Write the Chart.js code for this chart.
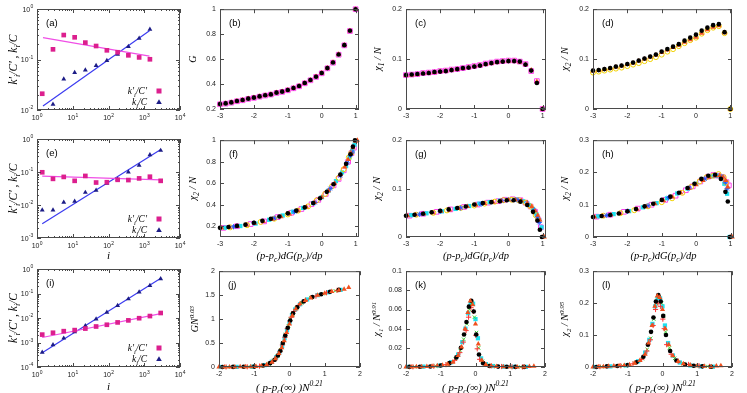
<!DOCTYPE html>
<html>
<head>
<meta charset="utf-8">
<script src="https://cdn.jsdelivr.net/npm/chart.js@4.4.1/dist/chart.umd.min.js"></script>
<style>
  body { margin: 0; background: #fff; width: 747px; height: 393px; position: relative; overflow: hidden; }
  canvas { position: absolute; }
</style>
</head>
<body>
<script>
// ---- tick values and labels (log axes: exponents of 10) ----
const decX = [1, 10, 100, 1000, 10000];
const decXExp = ['0', '1', '2', '3', '4'];
const decA = [0.01, 0.1, 1], decAExp = ['-2', '-1', '0'];
const decE = [0.001, 0.01, 0.1, 1], decEExp = ['-3', '-2', '-1', '0'];
const decI = [0.0001, 0.001, 0.01, 0.1, 1], decIExp = ['-4', '-3', '-2', '-1', '0'];
const x31 = [-3, -2, -1, 0, 1], x31Lab = ['-3', '-2', '-1', '0', '1'];
const x22 = [-2, -1, 0, 1, 2], x22Lab = ['-2', '-1', '0', '1', '2'];
const y21 = [0.2, 0.4, 0.6, 0.8, 1], y21Lab = ['0.2', '0.4', '0.6', '0.8', '1'];
const y02 = [0, 0.1, 0.2], y02Lab = ['0', '0.1', '0.2'];
const y03 = [0, 0.1, 0.2, 0.3], y03Lab = ['0', '0.1', '0.2', '0.3'];
const yJ = [0, 0.5, 1, 1.5, 2], yJLab = ['0', '0.5', '1', '1.5', '2'];
const yK = [0, 0.02, 0.04, 0.06, 0.08, 0.1], yKLab = ['0', '0.02', '0.04', '0.06', '0.08', '0.1'];

// ---- panel (a) ----
const aIdx = [1.4, 2.8, 5.6, 11.3, 22.5, 45, 90, 180, 360, 720, 1440];
const aKp = [0.021, 0.159, 0.305, 0.275, 0.216, 0.185, 0.152, 0.139, 0.121, 0.110, 0.101];
const aIdxK = [2.8, 5.6, 11.3, 22.5, 45, 90, 180, 360, 720, 1440];
const aK = [0.0129, 0.041, 0.055, 0.062, 0.0755, 0.095, 0.126, 0.18, 0.262, 0.395];
const aFitX = [1.47, 1400];
const aFitKp = [0.27, 0.117];
const aFitK = [0.012, 0.372];

// ---- panel (e) ----
const eIdx = [1.4, 2.8, 5.6, 11.3, 22.5, 45, 90, 180, 360, 720, 1440, 2880];
const eKp = [0.098, 0.062, 0.071, 0.054, 0.076, 0.048, 0.049, 0.058, 0.057, 0.064, 0.072, 0.054];
const eK = [0.007, 0.007, 0.012, 0.013, 0.024, 0.028, 0.045, 0.06, 0.1, 0.16, 0.33, 0.45];
const eFitX = [1.4, 2900];
const eFitKp = [0.075, 0.058];
const eFitK = [0.0027, 0.48];

// ---- panel (i) ----
const iKp = [0.0021, 0.0025, 0.0029, 0.0032, 0.0037, 0.0045, 0.0053, 0.0066, 0.008, 0.0098, 0.012, 0.016];
const iK = [0.0004, 0.0008, 0.0015, 0.0027, 0.0048, 0.009, 0.017, 0.032, 0.06, 0.115, 0.21, 0.4];
const iFitX = [1.4, 2900];
const iFitKp = [0.0016, 0.015];
const iFitK = [0.00038, 0.42];

// ---- row 1: (b) G, (c) chi1/N, (d) chi2/N ----
const x1 = [-3, -2.833, -2.667, -2.5, -2.333, -2.167, -2, -1.833, -1.667, -1.5, -1.333, -1.167, -1, -0.833, -0.667, -0.5, -0.333, -0.167, 0, 0.167, 0.333, 0.5, 0.667, 0.833, 1];
const bBlack = [0.24, 0.245, 0.253, 0.264, 0.272, 0.283, 0.291, 0.301, 0.31, 0.317, 0.331, 0.339, 0.352, 0.368, 0.384, 0.408, 0.432, 0.459, 0.488, 0.528, 0.573, 0.637, 0.712, 0.827, 1.0];
const bOrange = [0.241, 0.246, 0.254, 0.265, 0.273, 0.284, 0.292, 0.302, 0.311, 0.318, 0.332, 0.34, 0.353, 0.369, 0.385, 0.409, 0.433, 0.46, 0.489, 0.529, 0.574, 0.638, 0.713, 0.828, 1.0];
const bMag = [0.238, 0.243, 0.251, 0.262, 0.27, 0.281, 0.289, 0.299, 0.308, 0.316, 0.329, 0.337, 0.35, 0.366, 0.382, 0.406, 0.43, 0.457, 0.486, 0.526, 0.571, 0.635, 0.71, 0.825, 1.0];
const cBlack = [0.068, 0.069, 0.070, 0.071, 0.072, 0.074, 0.075, 0.076, 0.078, 0.080, 0.082, 0.083, 0.085, 0.087, 0.090, 0.092, 0.094, 0.095, 0.096, 0.096, 0.095, 0.089, 0.077, 0.052, 0.0];
const cOrange = [0.067, 0.068, 0.069, 0.071, 0.072, 0.073, 0.075, 0.076, 0.078, 0.079, 0.081, 0.083, 0.085, 0.087, 0.089, 0.091, 0.093, 0.095, 0.096, 0.096, 0.094, 0.089, 0.078, 0.055, 0.0];
const cMag = [0.068, 0.069, 0.070, 0.072, 0.073, 0.074, 0.076, 0.077, 0.079, 0.080, 0.082, 0.084, 0.086, 0.088, 0.091, 0.093, 0.095, 0.096, 0.097, 0.097, 0.095, 0.090, 0.076, 0.056, 0.0];
const dBlack = [0.077, 0.078, 0.080, 0.082, 0.085, 0.087, 0.090, 0.093, 0.097, 0.101, 0.105, 0.109, 0.115, 0.12, 0.125, 0.13, 0.137, 0.143, 0.149, 0.157, 0.163, 0.168, 0.170, 0.154, 0.0];
const dOrange = [0.076, 0.077, 0.079, 0.081, 0.084, 0.086, 0.089, 0.092, 0.096, 0.100, 0.104, 0.108, 0.113, 0.118, 0.123, 0.128, 0.134, 0.139, 0.144, 0.152, 0.159, 0.164, 0.167, 0.153, 0.0];
const dYellow = [0.073, 0.075, 0.077, 0.079, 0.081, 0.083, 0.086, 0.089, 0.092, 0.096, 0.100, 0.104, 0.109, 0.115, 0.12, 0.126, 0.132, 0.138, 0.143, 0.151, 0.158, 0.163, 0.166, 0.152, 0.0];

// ---- row 2: (f), (g), (h); x = (p-pc)dG(pc)/dp per system size ----
const x2Black = [-3, -2.75, -2.5, -2.25, -2.0, -1.75, -1.5, -1.25, -1.0, -0.75, -0.5, -0.25, -0.05, 0.15, 0.35, 0.55, 0.72, 0.85, 0.92, 0.98];
const fBlack = [0.185, 0.193, 0.203, 0.215, 0.232, 0.25, 0.27, 0.29, 0.32, 0.345, 0.375, 0.415, 0.46, 0.52, 0.59, 0.68, 0.78, 0.87, 0.94, 1.0];
const gBlack = [0.044, 0.046, 0.048, 0.051, 0.054, 0.057, 0.06, 0.063, 0.067, 0.07, 0.072, 0.074, 0.076, 0.076, 0.073, 0.066, 0.052, 0.034, 0.015, 0.0];
const hBlack = [0.062, 0.065, 0.068, 0.073, 0.08, 0.087, 0.095, 0.103, 0.115, 0.125, 0.137, 0.152, 0.165, 0.18, 0.19, 0.193, 0.18, 0.14, 0.11, 0.0];
const x2Orange = [-2.95, -2.72, -2.48, -2.22, -1.98, -1.72, -1.46, -1.2, -0.95, -0.7, -0.45, -0.22, 0.0, 0.2, 0.38, 0.55, 0.68, 0.78, 0.86, 0.92, 1.0, 1.05];
const fOrange = [0.183, 0.19, 0.2, 0.212, 0.228, 0.245, 0.265, 0.288, 0.315, 0.345, 0.38, 0.42, 0.47, 0.53, 0.6, 0.68, 0.75, 0.82, 0.88, 0.93, 0.99, 1.0];
const gOrange = [0.044, 0.046, 0.048, 0.05, 0.053, 0.056, 0.059, 0.063, 0.066, 0.069, 0.072, 0.075, 0.077, 0.077, 0.075, 0.07, 0.063, 0.054, 0.045, 0.035, 0.0, 0.0];
const hOrange = [0.062, 0.065, 0.069, 0.073, 0.079, 0.086, 0.094, 0.103, 0.113, 0.124, 0.137, 0.15, 0.162, 0.175, 0.185, 0.19, 0.19, 0.185, 0.175, 0.155, 0.0, 0.0];
const x2Mag = [-2.9, -2.5, -2.1, -1.7, -1.3, -0.9, -0.6, -0.3, -0.1, 0.12, 0.35, 0.5, 0.65, 0.78, 0.88, 0.95];
const fMag = [0.185, 0.2, 0.22, 0.245, 0.285, 0.325, 0.36, 0.405, 0.445, 0.5, 0.58, 0.64, 0.72, 0.8, 0.88, 0.93];
const gMag = [0.044, 0.048, 0.052, 0.057, 0.062, 0.067, 0.071, 0.074, 0.077, 0.078, 0.076, 0.071, 0.063, 0.052, 0.035, 0.02];
const hMag = [0.063, 0.069, 0.078, 0.088, 0.1, 0.115, 0.128, 0.145, 0.157, 0.172, 0.187, 0.192, 0.19, 0.185, 0.17, 0.16];
const x2Cyan = [-2.85, -2.4, -1.95, -1.55, -1.15, -0.85, -0.55, -0.25, 0.0, 0.2, 0.42, 0.6, 0.72, 0.82, 0.9, 0.97];
const fCyan = [0.186, 0.202, 0.225, 0.26, 0.3, 0.335, 0.37, 0.415, 0.47, 0.53, 0.62, 0.7, 0.76, 0.84, 0.9, 0.96];
const gCyan = [0.045, 0.049, 0.053, 0.058, 0.064, 0.069, 0.072, 0.075, 0.077, 0.077, 0.074, 0.066, 0.058, 0.047, 0.035, 0.02];
const hCyan = [0.064, 0.071, 0.08, 0.092, 0.105, 0.12, 0.135, 0.15, 0.165, 0.177, 0.188, 0.19, 0.185, 0.165, 0.134, 0.0];
const x2Yel = [-2.7, -2.2, -1.8, -1.4, -1.0, -0.7, -0.4, -0.15, 0.1, 0.3, 0.5, 0.65, 0.8, 0.87];
const fYel = [0.19, 0.21, 0.24, 0.27, 0.31, 0.345, 0.385, 0.44, 0.5, 0.57, 0.65, 0.73, 0.84, 0.88];
const gYel = [0.046, 0.05, 0.055, 0.06, 0.065, 0.069, 0.073, 0.076, 0.077, 0.076, 0.071, 0.063, 0.045, 0.035];
const hYel = [0.066, 0.074, 0.083, 0.095, 0.108, 0.12, 0.137, 0.155, 0.172, 0.185, 0.19, 0.195, 0.185, 0.169];
const x2Blue = [-2.6, -2.0, -1.4, -0.8, -0.2, 0.25, 0.55, 0.75, 0.85, 0.9];
const fBlue = [0.195, 0.23, 0.275, 0.335, 0.42, 0.55, 0.67, 0.79, 0.86, 0.89];
const gBlue = [0.047, 0.053, 0.06, 0.068, 0.075, 0.077, 0.07, 0.055, 0.042, 0.03];
const hBlue = [0.067, 0.08, 0.097, 0.122, 0.152, 0.18, 0.19, 0.187, 0.17, 0.15];

// ---- row 3: (j), (k), (l); x = (p-pc(inf))N^0.21 per system size ----
const x3Orange = [-2, -1.85, -1.7, -1.55, -1.4, -1.25, -1.1, -0.95, -0.8, -0.65, -0.5, -0.4, -0.3, -0.22, -0.15, -0.08, 0, 0.08, 0.18, 0.3, 0.45, 0.6, 0.8, 1.0, 1.2, 1.4, 1.55, 1.68];
const jOrange = [0, 0.001, 0.001, 0.002, 0.003, 0.005, 0.007, 0.01, 0.02, 0.045, 0.1, 0.17, 0.28, 0.4, 0.55, 0.72, 0.9, 1.07, 1.21, 1.32, 1.39, 1.44, 1.5, 1.54, 1.575, 1.6, 1.625, 1.66];
const kOrange = [0, 0.0001, 0.0002, 0.0003, 0.0005, 0.0008, 0.0012, 0.0018, 0.003, 0.005, 0.012, 0.021, 0.04, 0.057, 0.069, 0.065, 0.045, 0.024, 0.007, 0.0025, 0.001, 0.0006, 0.0003, 0.0002, 0.0001, 0.0001, 0.0005, 0.0008];
const lOrange = [0, 0.001, 0.001, 0.002, 0.003, 0.004, 0.005, 0.007, 0.012, 0.02, 0.04, 0.075, 0.13, 0.19, 0.222, 0.218, 0.18, 0.12, 0.07, 0.035, 0.017, 0.01, 0.006, 0.004, 0.002, 0.001, 0.003, 0.004];
const x3Black = [-1.9, -1.6, -1.3, -1.0, -0.75, -0.55, -0.42, -0.33, -0.26, -0.19, -0.12, -0.05, 0.02, 0.1, 0.22, 0.4, 0.65, 0.9, 1.15, 1.4];
const jBlack = [0, 0.002, 0.004, 0.008, 0.03, 0.08, 0.15, 0.24, 0.34, 0.5, 0.66, 0.82, 0.97, 1.12, 1.25, 1.37, 1.46, 1.52, 1.57, 1.61];
const kBlack = [0.0001, 0.0003, 0.0006, 0.0015, 0.004, 0.01, 0.02, 0.034, 0.047, 0.063, 0.069, 0.058, 0.034, 0.013, 0.004, 0.001, 0.0004, 0.0002, 0.0001, 0.0001];
const lBlack = [0.0, 0.002, 0.003, 0.006, 0.015, 0.032, 0.07, 0.11, 0.155, 0.205, 0.225, 0.205, 0.16, 0.1, 0.05, 0.02, 0.008, 0.004, 0.002, 0.001];
const x3Cyan = [-1.95, -1.5, -1.05, -0.7, -0.5, -0.38, -0.29, -0.21, -0.14, -0.07, 0.0, 0.07, 0.16, 0.3, 0.5, 0.8, 1.1, 1.45];
const jCyan = [0, 0.002, 0.007, 0.04, 0.11, 0.2, 0.3, 0.44, 0.6, 0.77, 0.93, 1.08, 1.2, 1.31, 1.41, 1.5, 1.56, 1.61];
const kCyan = [0.0001, 0.0004, 0.0014, 0.005, 0.013, 0.026, 0.04, 0.056, 0.066, 0.066, 0.05, 0.03, 0.009, 0.003, 0.001, 0.0004, 0.0002, 0.0001];
const lCyan = [0.0, 0.002, 0.005, 0.018, 0.045, 0.085, 0.135, 0.19, 0.215, 0.215, 0.19, 0.13, 0.075, 0.036, 0.014, 0.005, 0.002, 0.001];
const x3Red = [-1.8, -1.2, -0.85, -0.6, -0.45, -0.35, -0.27, -0.2, -0.13, -0.06, 0.01, 0.05, 0.12, 0.25, 0.45, 0.75, 1.05, 1.35];
const jRed = [0.001, 0.005, 0.018, 0.06, 0.13, 0.22, 0.32, 0.46, 0.62, 0.8, 0.96, 1.04, 1.16, 1.28, 1.39, 1.48, 1.55, 1.6];
const kRed = [0.0002, 0.0008, 0.0025, 0.007, 0.015, 0.026, 0.038, 0.052, 0.062, 0.058, 0.033, 0.019, 0.008, 0.003, 0.0012, 0.0005, 0.0002, 0.0001];
const lRed = [0.001, 0.004, 0.01, 0.024, 0.05, 0.085, 0.13, 0.18, 0.2, 0.19, 0.15, 0.12, 0.07, 0.04, 0.018, 0.008, 0.004, 0.002];
const x3Green = [-1.75, -1.15, -0.8, -0.58, -0.44, -0.34, -0.25, -0.18, -0.11, -0.03, 0.03, 0.09, 0.2, 0.35, 0.6, 0.95, 1.3];
const jGreen = [0.001, 0.006, 0.02, 0.065, 0.14, 0.23, 0.36, 0.5, 0.68, 0.86, 1.0, 1.1, 1.23, 1.34, 1.45, 1.53, 1.59];
const kGreen = [0.0002, 0.001, 0.003, 0.008, 0.017, 0.029, 0.045, 0.06, 0.066, 0.052, 0.036, 0.02, 0.006, 0.002, 0.0006, 0.0002, 0.0001];
const lGreen = [0.001, 0.004, 0.012, 0.026, 0.055, 0.09, 0.15, 0.2, 0.22, 0.2, 0.16, 0.11, 0.06, 0.027, 0.01, 0.004, 0.002];

// ---- axis titles: [text, 0 normal / 1 subscript / 2 superscript] ----
const tK = [['k′', 0], ['i', 1], ['/C′ , k', 0], ['i', 1], ['/C', 0]];
const tG = [['G', 0]];
const tChi1 = [['χ', 0], ['1', 1], [' / N', 0]];
const tChi2 = [['χ', 0], ['2', 1], [' / N', 0]];
const tI = [['i', 0]];
const tP = [['(p-p', 0], ['c', 1], [')dG(p', 0], ['c', 1], [')/dp', 0]];
const tPN = [['( p-p', 0], ['c', 1], ['(∞) )N', 0], ['0.21', 2]];
const tGN = [['GN', 0], ['0.03', 2]];
const tChi1N = [['χ', 0], ['1', 1], [' / N', 0], ['0.91', 2]];
const tChi2N = [['χ', 0], ['2', 1], [' / N', 0], ['0.95', 2]];
const legKp = [['k′', 0], ['i', 1], ['/C′', 0]];
const legK = [['k', 0], ['i', 1], ['/C', 0]];

const PINK = '#dc1f8e', NAVY = '#1c1c86';
const ST = {
  pinkSq: { pointStyle: 'rect', pointRadius: 3.3, backgroundColor: PINK, borderColor: PINK, borderWidth: 0 },
  navyTri: { pointStyle: 'triangle', pointRadius: 2.8, backgroundColor: NAVY, borderColor: NAVY, borderWidth: 0 },
  black: { pointStyle: 'circle', pointRadius: 2.3, backgroundColor: '#000', borderColor: '#000', borderWidth: 0 },
  orange: { pointStyle: 'triangle', pointRadius: 3, backgroundColor: '#f0501e', borderColor: '#f0501e', borderWidth: 0 },
  magenta: { pointStyle: 'rect', pointRadius: 3.3, backgroundColor: 'rgba(0,0,0,0)', borderColor: '#ff44ee', borderWidth: 1 },
  cyan: { pointStyle: 'rect', pointRadius: 3, backgroundColor: '#1ee0f0', borderColor: '#1ee0f0', borderWidth: 0 },
  yellow: { pointStyle: 'circle', pointRadius: 2.5, backgroundColor: 'rgba(0,0,0,0)', borderColor: '#f2d200', borderWidth: 1 },
  blue: { pointStyle: 'star', pointRadius: 2.6, backgroundColor: '#2255ff', borderColor: '#2255ff', borderWidth: 1 },
  red: { pointStyle: 'cross', pointRadius: 2.6, backgroundColor: '#ff3535', borderColor: '#ff3535', borderWidth: 1 },
  green: { pointStyle: 'crossRot', pointRadius: 2.4, backgroundColor: '#3ad83a', borderColor: '#3ad83a', borderWidth: 1 }
};

function pts(xs, ys, st) {
  return Object.assign({ data: xs.map((x, i) => ({ x: x, y: ys[i] })), clip: false, showLine: false }, st);
}
function fit(xs, ys, col) {
  return { data: xs.map((x, i) => ({ x: x, y: ys[i] })), showLine: true, pointRadius: 0, borderColor: col, borderWidth: 1.2, clip: false };
}

const SANS = '"Liberation Sans", Arial, sans-serif';
const SERIF = '"Liberation Serif", "Times New Roman", serif';

function rich(ctx, segs, x, y, size, rot, align) {
  ctx.save();
  ctx.translate(x, y);
  if (rot) ctx.rotate(-Math.PI / 2);
  ctx.fillStyle = '#000';
  ctx.textBaseline = 'alphabetic';
  const parts = segs.map(([t, m]) => {
    const fs = m ? size * 0.7 : size;
    ctx.font = 'italic ' + fs + 'px ' + SERIF;
    return { t: t, m: m, fs: fs, w: ctx.measureText(t).width };
  });
  const tw = parts.reduce((s, p) => s + p.w, 0);
  let cx = align === 'right' ? -tw : -tw / 2;
  parts.forEach(p => {
    ctx.font = 'italic ' + p.fs + 'px ' + SERIF;
    const dy = p.m === 1 ? size * 0.28 : p.m === 2 ? -size * 0.42 : 0;
    ctx.fillText(p.t, cx, size * 0.33 + dy);
    cx += p.w;
  });
  ctx.restore();
}

// "10" with a raised exponent, anchored at (x, y) = centre or right-middle
function powLabel(ctx, exp, x, y, align) {
  ctx.save();
  ctx.fillStyle = '#222';
  ctx.textBaseline = 'middle';
  ctx.textAlign = 'left';
  ctx.font = '7px ' + SANS;
  const wb = ctx.measureText('10').width;
  ctx.font = '5px ' + SANS;
  const we = ctx.measureText(exp).width;
  const x0 = align === 'right' ? x - wb - we : x - (wb + we) / 2;
  ctx.font = '7px ' + SANS;
  ctx.fillText('10', x0, y + 1);
  ctx.font = '5px ' + SANS;
  ctx.fillText(exp, x0 + wb + 0.3, y - 2);
  ctx.restore();
}

// frame, inward ticks, log labels, panel tag, axis titles, legend
const framePlugin = {
  id: 'frame',
  afterDraw(chart, args, o) {
    const ctx = chart.ctx, a = chart.chartArea, sx = chart.scales.x, sy = chart.scales.y;
    ctx.save();
    ctx.strokeStyle = '#4a4a4a';
    ctx.lineWidth = 1;
    ctx.strokeRect(a.left + 0.5, a.top + 0.5, a.right - a.left - 1, a.bottom - a.top - 1);
    ctx.beginPath();
    const tickX = (v, len) => {
      const p = Math.round(sx.getPixelForValue(v)) + 0.5;
      ctx.moveTo(p, a.bottom); ctx.lineTo(p, a.bottom - len);
      ctx.moveTo(p, a.top); ctx.lineTo(p, a.top + len);
    };
    const tickY = (v, len) => {
      const p = Math.round(sy.getPixelForValue(v)) + 0.5;
      ctx.moveTo(a.left, p); ctx.lineTo(a.left + len, p);
      ctx.moveTo(a.right, p); ctx.lineTo(a.right - len, p);
    };
    sx.ticks.forEach(t => tickX(t.value, 4));
    sy.ticks.forEach(t => tickY(t.value, 4));
    const minor = (s, f) => {
      for (let d = Math.floor(Math.log10(s.min)); d < Math.log10(s.max); d++) {
        for (let k = 2; k <= 9; k++) {
          const v = k * Math.pow(10, d);
          if (v > s.min && v < s.max) f(v, 2);
        }
      }
    };
    if (o.logX) minor(sx, tickX);
    if (o.logY) minor(sy, tickY);
    ctx.stroke();

    if (o.xExp) sx.ticks.forEach((t, i) => powLabel(ctx, o.xExp[i], sx.getPixelForValue(t.value), a.bottom + 7.5, 'center'));
    if (o.yExp) sy.ticks.forEach((t, i) => powLabel(ctx, o.yExp[i], a.left - 4, sy.getPixelForValue(t.value), 'right'));

    ctx.fillStyle = '#000';
    ctx.font = '9.5px ' + SANS;
    ctx.textBaseline = 'middle';
    ctx.textAlign = 'left';
    ctx.fillText(o.tag, a.left + 9, a.top + 14);

    if (o.yTitle) rich(ctx, o.yTitle, a.left - o.yOff, (a.top + a.bottom) / 2, o.ySize || 10, true);
    if (o.xTitle) rich(ctx, o.xTitle, (a.left + a.right) / 2, a.bottom + o.xOff, o.xSize || 10, false);

    if (o.legend) {
      const yl1 = a.bottom - 19, yl2 = a.bottom - 8, tx = a.right - 33, mx = a.right - 21;
      rich(ctx, legKp, tx, yl1, 9.5, false, 'right');
      rich(ctx, legK, tx, yl2, 9.5, false, 'right');
      ctx.fillStyle = PINK;
      ctx.fillRect(mx - 2.5, yl1 - 2.5, 5, 5);
      ctx.fillStyle = NAVY;
      ctx.beginPath();
      ctx.moveTo(mx, yl2 - 2.8); ctx.lineTo(mx + 2.8, yl2 + 2); ctx.lineTo(mx - 2.8, yl2 + 2);
      ctx.closePath(); ctx.fill();
    }
    ctx.restore();
  }
};

function scale(dir, type, min, max, ticks, labels, size) {
  return {
    type: type, min: min, max: max, position: dir === 'x' ? 'bottom' : 'left',
    grid: { display: false, drawTicks: false },
    border: { display: false },
    title: { display: false },
    ticks: {
      display: type !== 'logarithmic',
      font: { size: 7, family: SANS }, color: '#222', padding: dir === 'x' ? 3 : 4,
      autoSkip: false, maxRotation: 0, minRotation: 0,
      callback: (v, i) => labels[i]
    },
    afterBuildTicks: s => { s.ticks = ticks.map(v => ({ value: v })); },
    afterFit: s => { if (dir === 'x') s.height = size; else s.width = size; }
  };
}

const panels = [
  { tag: '(a)', L: 37, T: 9, R: 180, B: 110, xh: 16, logX: true, logY: true, legend: true,
    x: ['logarithmic', 1, 1e4, decX, decXExp], y: ['logarithmic', 0.01, 1, decA, decAExp],
    yTitle: tK, yOff: 24, ySize: 11.5,
    sets: [pts(aIdx, aKp, ST.pinkSq), pts(aIdxK, aK, ST.navyTri), fit(aFitX, aFitKp, '#f04ee6'), fit(aFitX, aFitK, '#3b3bf0')] },
  { tag: '(b)', L: 220, T: 9, R: 359, B: 109, xh: 16,
    x: ['linear', -3, 1.1, x31, x31Lab], y: ['linear', 0.2, 1, y21, y21Lab],
    yTitle: tG, yOff: 27, ySize: 10,
    sets: [pts(x1, bBlack, ST.black), pts(x1, bOrange, ST.orange), pts(x1, bMag, ST.magenta)] },
  { tag: '(c)', L: 406, T: 9, R: 546, B: 109, xh: 16,
    x: ['linear', -3, 1.1, x31, x31Lab], y: ['linear', 0, 0.2, y02, y02Lab],
    yTitle: tChi1, yOff: 28, ySize: 10.5,
    sets: [pts(x1, cBlack, ST.black), pts(x1, cOrange, ST.orange), pts(x1, cMag, ST.magenta)] },
  { tag: '(d)', L: 593, T: 9, R: 732, B: 109, xh: 16,
    x: ['linear', -3, 1.05, x31, x31Lab], y: ['linear', 0, 0.2, y02, y02Lab],
    yTitle: tChi2, yOff: 28, ySize: 10.5,
    sets: [pts(x1, dBlack, ST.black), pts(x1, dOrange, ST.orange), pts(x1, dYellow, ST.yellow)] },

  { tag: '(e)', L: 37, T: 139, R: 180, B: 238, xh: 26, logX: true, logY: true, legend: true,
    x: ['logarithmic', 1, 1e4, decX, decXExp], y: ['logarithmic', 0.001, 1, decE, decEExp],
    yTitle: tK, yOff: 24, ySize: 11.5, xTitle: tI, xOff: 17, xSize: 11,
    sets: [pts(eIdx, eKp, ST.pinkSq), pts(eIdx, eK, ST.navyTri), fit(eFitX, eFitKp, '#f04ee6'), fit(eFitX, eFitK, '#3b3bf0')] },
  { tag: '(f)', L: 220, T: 140, R: 359, B: 237, xh: 26,
    x: ['linear', -3, 1.1, x31, x31Lab], y: ['linear', 0.1, 1, y21, y21Lab],
    yTitle: tChi2, yOff: 27, ySize: 10.5, xTitle: tP, xOff: 19, xSize: 10.5,
    sets: [pts(x2Black, fBlack, ST.black), pts(x2Orange, fOrange, ST.orange), pts(x2Blue, fBlue, ST.blue),
           pts(x2Yel, fYel, ST.yellow), pts(x2Cyan, fCyan, ST.cyan), pts(x2Mag, fMag, ST.magenta)] },
  { tag: '(g)', L: 406, T: 140, R: 546, B: 237, xh: 26,
    x: ['linear', -3, 1.1, x31, x31Lab], y: ['linear', 0, 0.2, y02, y02Lab],
    yTitle: tChi2, yOff: 29, ySize: 10.5, xTitle: tP, xOff: 19, xSize: 10.5,
    sets: [pts(x2Black, gBlack, ST.black), pts(x2Orange, gOrange, ST.orange), pts(x2Blue, gBlue, ST.blue),
           pts(x2Yel, gYel, ST.yellow), pts(x2Cyan, gCyan, ST.cyan), pts(x2Mag, gMag, ST.magenta)] },
  { tag: '(h)', L: 593, T: 140, R: 734, B: 237, xh: 26,
    x: ['linear', -3, 1.1, x31, x31Lab], y: ['linear', 0, 0.3, y03, y03Lab],
    yTitle: tChi2, yOff: 28, ySize: 10.5, xTitle: tP, xOff: 19, xSize: 10.5,
    sets: [pts(x2Black, hBlack, ST.black), pts(x2Orange, hOrange, ST.orange), pts(x2Blue, hBlue, ST.blue),
           pts(x2Yel, hYel, ST.yellow), pts(x2Cyan, hCyan, ST.cyan), pts(x2Mag, hMag, ST.magenta)] },

  { tag: '(i)', L: 37, T: 269, R: 180, B: 367, xh: 26, logX: true, logY: true, legend: true,
    x: ['logarithmic', 1, 1e4, decX, decXExp], y: ['logarithmic', 0.0001, 1, decI, decIExp],
    yTitle: tK, yOff: 24, ySize: 11.5, xTitle: tI, xOff: 19, xSize: 11,
    sets: [pts(eIdx, iKp, ST.pinkSq), pts(eIdx, iK, ST.navyTri), fit(iFitX, iFitKp, '#f04ee6'), fit(iFitX, iFitK, '#3b3bf0')] },
  { tag: '(j)', L: 219, T: 271, R: 360, B: 367, xh: 26,
    x: ['linear', -2, 2, x22, x22Lab], y: ['linear', 0, 2, yJ, yJLab],
    yTitle: tGN, yOff: 24, ySize: 10, xTitle: tPN, xOff: 20, xSize: 11,
    sets: [pts(x3Orange, jOrange, ST.orange), pts(x3Black, jBlack, ST.black), pts(x3Red, jRed, ST.red),
           pts(x3Green, jGreen, ST.green), pts(x3Cyan, jCyan, ST.cyan)] },
  { tag: '(k)', L: 406, T: 271, R: 545, B: 367, xh: 26,
    x: ['linear', -2, 2, x22, x22Lab], y: ['linear', 0, 0.1, yK, yKLab],
    yTitle: tChi1N, yOff: 29, ySize: 10, xTitle: tPN, xOff: 20, xSize: 11,
    sets: [pts(x3Orange, kOrange, ST.orange), pts(x3Black, kBlack, ST.black), pts(x3Red, kRed, ST.red),
           pts(x3Green, kGreen, ST.green), pts(x3Cyan, kCyan, ST.cyan)] },
  { tag: '(l)', L: 593, T: 271, R: 732, B: 367, xh: 26,
    x: ['linear', -2, 2, x22, x22Lab], y: ['linear', 0, 0.3, y03, y03Lab],
    yTitle: tChi2N, yOff: 28, ySize: 10, xTitle: tPN, xOff: 20, xSize: 11,
    sets: [pts(x3Orange, lOrange, ST.orange), pts(x3Black, lBlack, ST.black), pts(x3Red, lRed, ST.red),
           pts(x3Green, lGreen, ST.green), pts(x3Cyan, lCyan, ST.cyan)] }
];

const YW = 36, PR = 10, PT = 8;
panels.forEach(p => {
  const cv = document.createElement('canvas');
  const w = p.R - p.L + YW + PR, h = p.B - p.T + PT + p.xh;
  cv.width = w; cv.height = h;
  cv.style.left = (p.L - YW) + 'px';
  cv.style.top = (p.T - PT) + 'px';
  cv.style.width = w + 'px'; cv.style.height = h + 'px';
  document.body.appendChild(cv);
  const isLogX = p.x[0] === 'logarithmic', isLogY = p.y[0] === 'logarithmic';
  new Chart(cv, {
    type: 'scatter',
    data: { datasets: p.sets },
    options: {
      responsive: false,
      animation: false,
      devicePixelRatio: 1,
      layout: { padding: { left: 0, top: PT, right: PR, bottom: 0 } },
      plugins: {
        legend: { display: false },
        tooltip: { enabled: false },
        frame: { tag: p.tag, yTitle: p.yTitle, yOff: p.yOff, ySize: p.ySize, xTitle: p.xTitle, xOff: p.xOff, xSize: p.xSize,
                 legend: p.legend, logX: p.logX, logY: p.logY,
                 xExp: isLogX ? p.x[4] : null, yExp: isLogY ? p.y[4] : null }
      },
      scales: {
        x: scale('x', p.x[0], p.x[1], p.x[2], p.x[3], p.x[4], p.xh),
        y: scale('y', p.y[0], p.y[1], p.y[2], p.y[3], p.y[4], YW)
      }
    },
    plugins: [framePlugin]
  });
});
</script>
</body>
</html>
